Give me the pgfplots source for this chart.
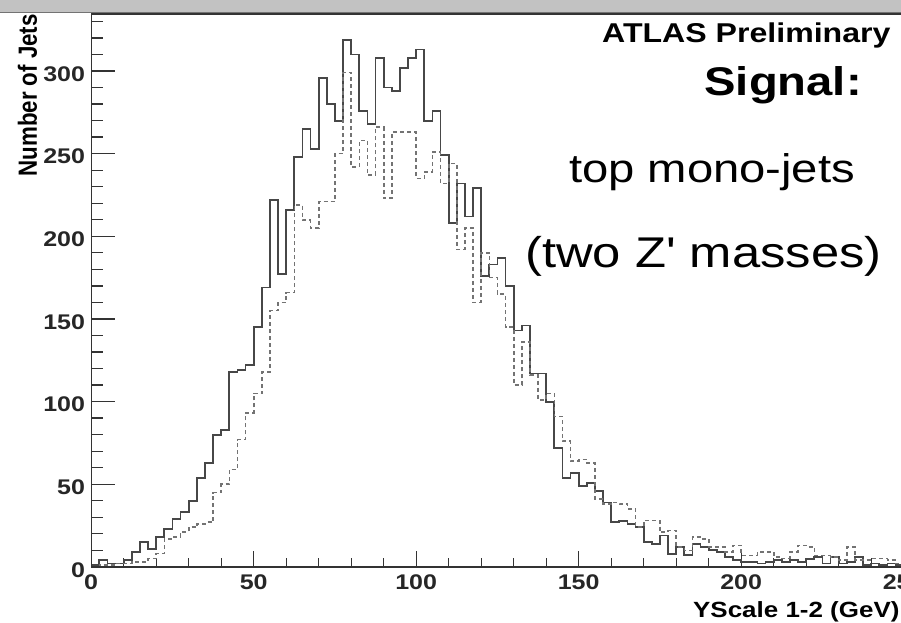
\documentclass[border=0pt]{standalone}
\usepackage{fontspec}
\setmainfont{Liberation Sans}
\newfontfamily\plainsans{Liberation Sans}
\usepackage{pgfplots}
\pgfplotsset{compat=1.18}
\newcommand{\hs}[1]{\scalebox{1.18}[1]{#1}}
\definecolor{band}{RGB}{194,194,194}
\pgfplotsset{common/.style={
  scale only axis,
  width=812.5bp, height=552.9bp,
  xmin=0, xmax=250, ymin=0, ymax=334.5,
  at={(0,0)}, anchor=origin,
  clip=false,
  axis line style={black!80, line width=1.3bp},
  tick style={black!80, line width=1.3bp},
  tick align=inside,
  tick pos=left,
  tick label style={font=\fontsize{21.2bp}{24bp}\selectfont\bfseries, inner sep=0pt, text=black!85},
}}
\begin{document}
\begin{tikzpicture}
\begin{axis}[
  common,
  major tick length=16bp, minor tick length=9bp,
  xtick={0,50,100,150,200,250},
  xticklabels={\hs{0},\hs{50},\hs{100},\hs{150},\hs{200},\hs{250}},
  minor xtick={0,10,...,250},
  ytick=\empty,
  xticklabel style={anchor=north, yshift=-8bp},
]
\coordinate (O) at (axis cs:0,0);
\addplot[const plot, draw=black!72, line width=1.8bp] coordinates {
(0,1)(2.5,4)(5,2)(7.5,2)(10,4)(12.5,9)(15,15)(17.5,11)(20,18)(22.5,23)
(25,29)(27.5,33)(30,40)(32.5,54)(35,63)(37.5,80)(40,83)(42.5,118)(45,119)(47.5,122)
(50,145)(52.5,169)(55,222)(57.5,177)(60,216)(62.5,248)(65,265)(67.5,253)(70,296)(72.5,280)
(75,270)(77.5,319)(80,310)(82.5,276)(85,268)(87.5,308)(90,290)(92.5,288)(95,302)(97.5,308)
(100,313)(102.5,270)(105,276)(107.5,249)(110,208)(112.5,232)(115,212)(117.5,229)(120,176)(122.5,183)
(125,187)(127.5,170)(130,143)(132.5,146)(135,117)(137.5,117)(140,100)(142.5,72)(145,54)(147.5,57)
(150,49)(152.5,51)(155,46)(157.5,39)(160,27)(162.5,28)(165,26)(167.5,24)(170,15)(172.5,14)
(175,19)(177.5,8)(180,12)(182.5,7)(185,14)(187.5,12)(190,10)(192.5,9)(195,6)(197.5,4)
(200,3)(202.5,3)(205,2)(207.5,3)(210,4)(212.5,3)(215,4)(217.5,3)(220,5)(222.5,6)
(225,2)(227.5,6)(230,2)(232.5,3)(235,6)(237.5,1)(240,2)(242.5,1)(245,2)(247.5,1)(250,1)
};
\addplot[const plot, draw=black!55, line width=1.6bp, dash pattern=on 4bp off 3bp] coordinates {
(0,0)(2.5,1)(5,1)(7.5,2)(10,2)(12.5,3)(15,3)(17.5,5)(20,8)(22.5,17)
(25,18)(27.5,21)(30,24)(32.5,26)(35,27)(37.5,45)(40,50)(42.5,59)(45,77)(47.5,93)
(50,105)(52.5,118)(55,155)(57.5,160)(60,166)(62.5,219)(65,210)(67.5,205)(70,221)(72.5,221)
(75,250)(77.5,299)(80,242)(82.5,258)(85,237)(87.5,266)(90,223)(92.5,263)(95,263)(97.5,263)
(100,235)(102.5,239)(105,251)(107.5,232)(110,244)(112.5,192)(115,205)(117.5,160)(120,190)(122.5,175)
(125,165)(127.5,145)(130,110)(132.5,136)(135,116)(137.5,101)(140,105)(142.5,91)(145,76)(147.5,64)
(150,65)(152.5,63)(155,41)(157.5,38)(160,39)(162.5,38)(165,35)(167.5,24)(170,28)(172.5,28)
(175,21)(177.5,22)(180,12)(182.5,10)(185,18)(187.5,17)(190,12)(192.5,12)(195,9)(197.5,13)
(200,7)(202.5,7)(205,9)(207.5,9)(210,6)(212.5,5)(215,9)(217.5,13)(220,12)(222.5,7)
(225,7)(227.5,6)(230,4)(232.5,12)(235,4)(237.5,4)(240,5)(242.5,5)(245,4)(247.5,2)(250,2)
};
\end{axis}
\begin{axis}[
  common,
  hide x axis,
  axis y line*=left,
  major tick length=24bp, minor tick length=12bp,
  ytick={0,50,100,150,200,250,300},
  yticklabels={\hs{0},\hs{50},\hs{100},\hs{150},\hs{200},\hs{250},\hs{300}},
  minor ytick={0,10,...,330},
  yticklabel style={anchor=east, xshift=-6bp, yshift=-3bp},
]
\addplot[draw=none] coordinates {(0,0)};
\end{axis}
\fill[band] ([shift={(-91.2bp,553.6bp)}]O) rectangle ([shift={(809.8bp,566.9bp)}]O);
\draw[black!55, line width=1.0bp] ([shift={(-91.2bp,553.9bp)}]O) -- ([shift={(809.8bp,553.9bp)}]O);
\node[rotate=90, anchor=base east, inner sep=0pt, font=\fontsize{22.3bp}{26bp}\selectfont\bfseries]
  at ([shift={(-54.2bp,552.9bp)}]O) {\scalebox{1}[1.18]{Number of Jets}};
\node[anchor=base east, inner sep=0pt, font=\fontsize{22bp}{26bp}\selectfont\bfseries]
  at ([shift={(808.5bp,-50.1bp)}]O) {\hs{YScale 1-2 (GeV)}};
\node[anchor=base west, inner sep=0pt, font=\fontsize{27.2bp}{31bp}\selectfont\bfseries]
  at ([shift={(510.8bp,523.9bp)}]O) {\hs{ATLAS Preliminary}};
\node[anchor=base east, inner sep=0pt, font=\fontsize{40bp}{44bp}\selectfont\bfseries]
  at ([shift={(770.8bp,470.9bp)}]O) {\hs{Signal:}};
\node[anchor=base, inner sep=0pt, font=\fontsize{40bp}{46bp}\selectfont\plainsans]
  at ([shift={(620.8bp,383.9bp)}]O) {\hs{top mono-jets}};
\node[anchor=base, inner sep=0pt, font=\fontsize{43bp}{48bp}\selectfont\plainsans]
  at ([shift={(612.3bp,298.9bp)}]O) {\hs{(two Z' masses)}};
\pgfresetboundingbox
\path[use as bounding box] ([shift={(-91.2bp,-56.1bp)}]O) rectangle ([shift={(809.8bp,566.9bp)}]O);
\end{tikzpicture}
\end{document}
